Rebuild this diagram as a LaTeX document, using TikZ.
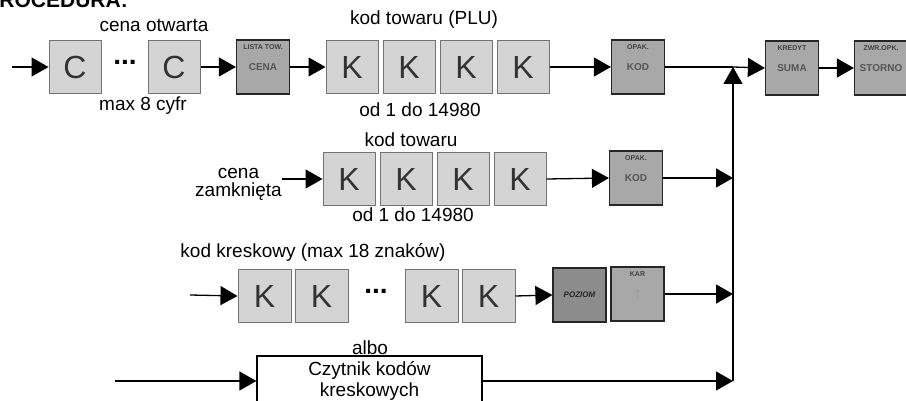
\documentclass[tikz,border=0pt]{standalone}
\usepackage{fontspec}
\setmainfont{Liberation Sans}
\usepackage{tikz}
\usetikzlibrary{arrows.meta, positioning}
\definecolor{digitfill}{RGB}{212, 212, 212}
\definecolor{digitline}{RGB}{115, 115, 115}
\definecolor{keyfill}{RGB}{168, 168, 168}
\definecolor{keydark}{RGB}{140, 140, 140}
\definecolor{keytext}{RGB}{85, 85, 85}

\tikzset{
    digit/.style={draw=digitline, line width=1pt, fill=digitfill, minimum width=52pt, minimum height=53pt, inner sep=0pt, font=\fontsize{32}{32}\selectfont, text=black!80},
    keybox/.style={draw=black!85, line width=1.2pt, fill=keyfill, minimum width=53pt, minimum height=54pt, inner sep=1pt, font=\fontsize{10}{10}\selectfont\bfseries, text=keytext},
    keytop/.style={label={[anchor=north, yshift=-5pt, inner sep=0pt, font=\fontsize{7}{7}\selectfont\bfseries, text=black!75]north:#1}},
    lbl/.style={font=\fontsize{19}{18}\selectfont, inner sep=0pt, align=center},
    dotsep/.style={font=\fontsize{28}{28}\selectfont\bfseries, inner sep=0pt},
    flow/.style={line width=1.3pt, -{Triangle[length=17pt, width=19pt]}},
    wire/.style={line width=1.3pt},
}

\begin{document}
\begin{tikzpicture}[x=1pt, y=-1pt]
\useasboundingbox (0,0) rectangle (906,401);

% title, cut by the page edge
\node[anchor=base east, inner sep=0pt, font=\fontsize{21}{21}\selectfont\bfseries] (title) at (128,8) {PROCEDURA:};

% row 1: open price
\coordinate (in1) at (12,67);
\node[digit] (c1) at (75,67) {C};
\node[dotsep] (dots1) at (125,62) {...};
\node[digit] (c2) at (174,67) {C};
\node[keybox, keytop={LISTA TOW.}] (cena) at (263,67) {CENA};
\node[digit] (k11) at (352,67) {K};
\node[digit, right=4pt of k11] (k12) {K};
\node[digit, right=4pt of k12] (k13) {K};
\node[digit, right=4pt of k13] (k14) {K};
\node[keybox, keytop={OPAK.}] (opak1) at (638,67) {KOD};
\node[keybox, keytop={KREDYT}] (suma) at (792,68) {SUMA};
\node[keybox, keytop={ZWR.OPK.}] (storno) at (881,68) {STORNO};
\node[lbl] (lopen) at (154,25) {cena otwarta};
\node[lbl] (lmax) at (143,106) {max 8 cyfr};
\node[lbl] (lplu) at (424,20) {kod towaru (PLU)};
\node[lbl] (lrange1) at (420,110) {od 1 do 14980};

% row 2: closed price
\node[lbl, anchor=east] (closed) at (282,184) {cena\\zamknięta};
\node[digit] (k21) at (349,179) {K};
\node[digit, right=4pt of k21] (k22) {K};
\node[digit, right=4pt of k22] (k23) {K};
\node[digit, right=4pt of k23] (k24) {K};
\node[keybox, keytop={OPAK.}] (opak2) at (636,178) {KOD};
\node[lbl] (lcode) at (411,140) {kod towaru};
\node[lbl] (lrange2) at (413,215) {od 1 do 14980};

% row 3: bar code typed in
\coordinate (in3) at (190,295);
\node[digit, minimum width=53pt] (k31) at (264.5,296) {K};
\node[digit, minimum width=53pt, right=3pt of k31] (k32) {K};
\node[dotsep] (dots3) at (376,291) {...};
\node[digit, minimum width=53pt] (k33) at (431.5,296) {K};
\node[digit, minimum width=53pt, right=3pt of k33] (k34) {K};
\node[keybox, fill=keydark, font=\fontsize{8}{8}\selectfont\bfseries\itshape, text=black!85] (poziom) at (579.5,295) {POZIOM};
\node[keybox, keytop={KAR}, text=black!45] (kar) at (637.5,294) {$\uparrow$};
\node[lbl] (lbar) at (313,252) {kod kreskowy (max 18 znaków)};

% row 4: scanner
\coordinate (in4) at (115,381);
\node[lbl] (albo) at (370,348) {albo};
\node[draw, line width=1.2pt, fill=white, minimum width=225pt, minimum height=50pt, lbl, font=\fontsize{19}{21}\selectfont] (reader) at (369.5,381) {Czytnik kodów\\kreskowych};

% junctions on the collecting line
\coordinate (j1) at (733,67);
\coordinate (j2) at (733,178);
\coordinate (j3) at (733,294);
\coordinate (j4) at (733,381);

% connectors
\draw[flow] (in1) -- (c1.west);
\draw[flow] (c2.east) -- (cena.west);
\draw[flow] (cena.east) -- (k11.west);
\draw[flow] (k14.east) -- (opak1.west);
\draw[wire] (opak1.east) -- (j1);
\draw[flow] (j1) -- (suma.west);
\draw[flow] (suma.east) -- (storno.west);

\draw[flow] (closed.east |- k21.west) -- (k21.west);
\draw[flow] (k24.east) -- (opak2.west);
\draw[flow] (opak2.east) -- (j2);

\draw[flow] (in3) -- (k31.west);
\draw[flow] (k34.east) -- (poziom.west);
\draw[flow] (kar.east) -- (j3);

\draw[flow] (in4) -- (reader.west);
\draw[flow] (reader.east) -- (j4);
\draw[flow] (j4) -- (j1);
\end{tikzpicture}
\end{document}
